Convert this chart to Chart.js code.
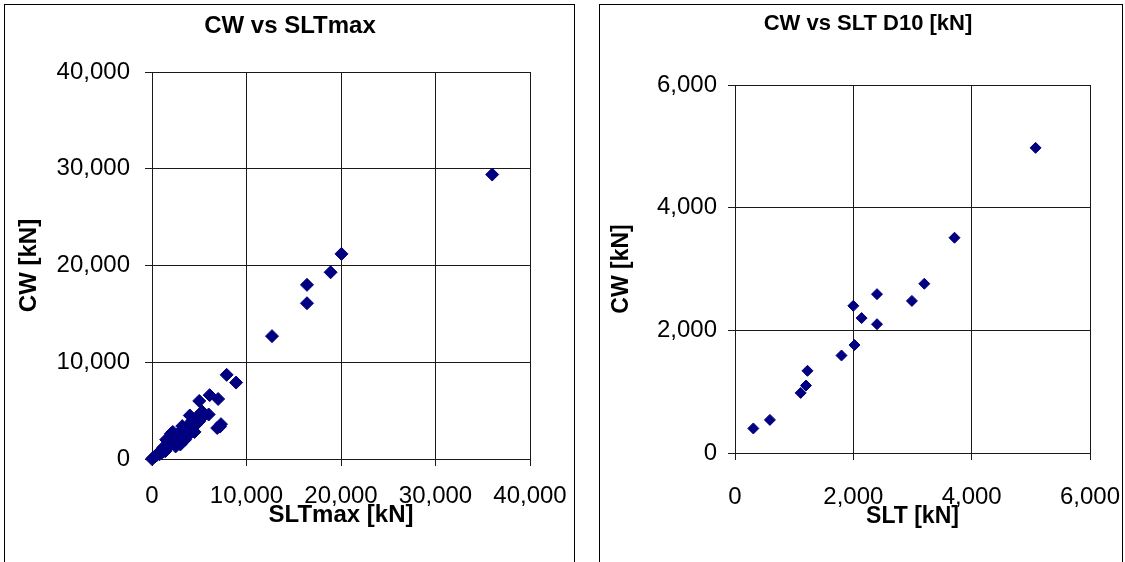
<!DOCTYPE html>
<html>
<head>
<meta charset="utf-8">
<script src="https://cdn.jsdelivr.net/npm/chart.js@4.4.1/dist/chart.umd.min.js"></script>
<style>
  html, body { margin:0; padding:0; width:1125px; height:562px; overflow:hidden; background:#fff; }
  .panel { position:absolute; top:4px; height:600px; box-sizing:border-box; border:1px solid #000; border-bottom:none; background:#fff; }
  #p1 { left:4px; width:571px; }
  #p2 { left:599px; width:524px; }
  canvas { position:absolute; }
  #c1 { left:5px; top:5px; }
  #c2 { left:600px; top:5px; }
</style>
</head>
<body>
<div class="panel" id="p1"></div>
<div class="panel" id="p2"></div>
<canvas id="c1" width="568" height="557"></canvas>
<canvas id="c2" width="521" height="557"></canvas>
<script>
// ---- Left chart: CW vs SLTmax ----
const leftTitle = 'CW vs SLTmax';
const leftXTitle = 'SLTmax [kN]';
const leftYTitle = 'CW [kN]';
const leftTicks = [0, 10000, 20000, 30000, 40000];
const sltMax = [0, 100, 300, 500, 700, 800, 1000, 1100, 1200, 1300, 1400, 1500, 1600, 1700, 1800, 1900, 2000, 2100, 2200, 2300, 2400, 2500, 2600, 2700, 2800, 2900, 3000, 3100, 3200, 3300, 3400, 3500, 3600, 3700, 3800, 3900, 4000, 4100, 4200, 4300, 4400, 4600, 4800, 5000, 5200, 5300, 5500, 6000, 5000, 6100, 7000, 7900, 8900, 6900, 7200, 7300, 12700, 16400, 16400, 18900, 20050, 36000, 1500, 2000, 2500, 3000, 3500, 4500, 4000, 2200, 3200];
const cwMax  = [0, 100, 250, 400, 650, 500, 900, 700, 1200, 1000, 800, 1400, 1100, 1600, 1300, 1800, 1500, 2000, 1700, 2300, 1900, 2100, 2500, 1800, 2300, 2700, 2000, 2400, 2900, 2200, 2600, 3100, 2700, 3300, 2400, 2900, 3600, 3000, 3900, 3300, 4100, 3500, 4400, 3900, 4700, 4900, 4500, 4600, 6000, 6600, 6200, 8700, 7900, 3200, 3350, 3600, 12700, 18000, 16100, 19300, 21200, 29400, 2000, 2600, 1300, 1500, 2000, 2800, 4500, 2800, 3400];

// ---- Right chart: CW vs SLT D10 ----
const rightTitle = 'CW vs SLT D10 [kN]';
const rightXTitle = 'SLT [kN]';
const rightYTitle = 'CW [kN]';
const rightTicks = [0, 2000, 4000, 6000];
const sltD10 = [310, 590, 1110, 1200, 1225, 1800, 2020, 2000, 2140, 2400, 2400, 2990, 3200, 3710, 5080];
const cwD10  = [400, 540, 980, 1100, 1340, 1590, 1760, 2400, 2200, 2100, 2590, 2480, 2760, 3510, 4975];

const FONT = "'Liberation Sans', Arial, sans-serif";
const MARK = '#000080';
const GRID = '#1a1a1a';

function toPoints(xs, ys) { return xs.map((x, i) => ({ x: x, y: ys[i] })); }
const fmt = v => Number(v).toLocaleString('en-US');

function makeChart(id, cfg) {
  const axisCommon = (ticks, titleText, titleSize, titlePad, tickFont, fitProp, fitVal) => ({
    type: 'linear',
    min: ticks[0], max: ticks[ticks.length - 1],
    afterBuildTicks: ax => { ax.ticks = ticks.map(v => ({ value: v })); },
    ticks: { color: '#000', font: tickFont, padding: fitProp === 'height' ? 0 : cfg.yTickPad, callback: fmt, autoSkip: false, maxRotation: 0 },
    grid: { color: GRID, lineWidth: 1, tickLength: 7, drawTicks: true },
    border: { color: GRID, width: 1 },
    title: { display: true, text: titleText, color: '#000', font: { family: FONT, size: titleSize, weight: 'bold' }, padding: titlePad },
    afterFit: ax => { ax[fitProp] = fitVal; }
  });
  return new Chart(document.getElementById(id), {
    type: 'scatter',
    data: { datasets: [{ data: toPoints(cfg.xs, cfg.ys), pointStyle: 'rectRot', pointRadius: cfg.r, borderWidth: 1, backgroundColor: MARK, borderColor: MARK, clip: false }] },
    options: {
      responsive: false, animation: false, events: [],
      layout: { padding: { left: cfg.padLeft, right: cfg.padRight, top: 0, bottom: 0 } },
      plugins: {
        legend: { display: false }, tooltip: { enabled: false },
        title: { display: true, text: cfg.title, color: '#000', font: { family: FONT, size: cfg.titleSize, weight: 'bold', lineHeight: 1.2 }, padding: { top: cfg.titleTop, bottom: cfg.titleBottom } }
      },
      scales: {
        x: axisCommon(cfg.ticks, cfg.xTitle, cfg.axisTitleSize, { top: 0, bottom: cfg.xTitlePad },
             { family: FONT, size: 24, lineHeight: cfg.xLabelLH / 24 }, 'height', cfg.xHeight),
        y: axisCommon(cfg.ticks, cfg.yTitle, cfg.axisTitleSize, { top: cfg.yTitlePad, bottom: 0 },
             { family: FONT, size: 24 }, 'width', cfg.yWidth)
      }
    }
  });
}

makeChart('c1', { xs: sltMax, ys: cwMax, r: 6.5, title: leftTitle, xTitle: leftXTitle, yTitle: leftYTitle, ticks: leftTicks,
  titleSize: 24, axisTitleSize: 24, padLeft: 45, padRight: 43, titleTop: 7, titleBottom: 31.2,
  xTitlePad: 32.6, xLabelLH: 61.5, xHeight: 103, yTitlePad: -35.4, yTickPad: 15, yWidth: 102 });
makeChart('c2', { xs: sltD10, ys: cwD10, r: 5.5, title: rightTitle, xTitle: rightXTitle, yTitle: rightYTitle, ticks: rightTicks,
  titleSize: 22, axisTitleSize: 23, padLeft: 46, padRight: 31, titleTop: 6, titleBottom: 47.6,
  xTitlePad: 31.2, xLabelLH: 74, xHeight: 109, yTitlePad: -37.8, yTickPad: 11, yWidth: 89 });
</script>
</body>
</html>
